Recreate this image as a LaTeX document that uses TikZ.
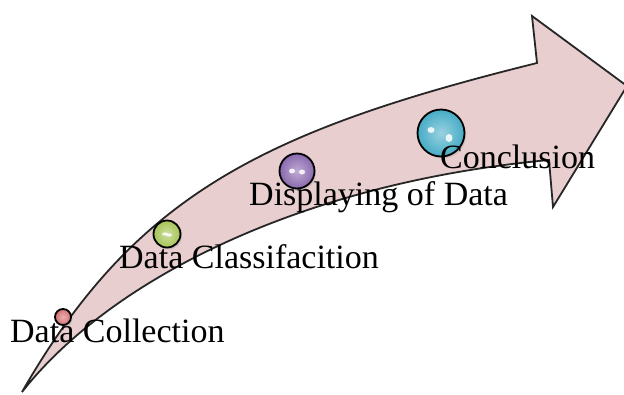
\documentclass[tikz,border=0pt]{standalone}
\usepackage{fontspec}
\setmainfont{Liberation Serif}
\usetikzlibrary{shadows}
\definecolor{arrowpink}{RGB}{232,206,206}
\definecolor{ballred}{RGB}{214,112,116}
\definecolor{ballgreen}{RGB}{165,196,85}
\definecolor{ballpurple}{RGB}{138,104,174}
\definecolor{ballcyan}{RGB}{70,172,198}
\begin{document}
\begin{tikzpicture}[x=1pt,y=-1pt,
  arrowshape/.style={draw=black!85, line width=1.8pt, fill=arrowpink, line join=miter},
  ballnode/.style={circle, draw=black, line width=1.8pt, inner sep=0pt, minimum size=#1,
    drop shadow={opacity=0.25, shadow xshift=1.5pt, shadow yshift=-2pt}},
  gloss/.style={fill=white, opacity=0.85},
  lbl/.style={anchor=base west, inner sep=0pt, font=\fontsize{34}{38}\selectfont, text=black}]
\useasboundingbox (0,0) rectangle (624,394);
% arrow
\draw[arrowshape] (22,392) .. controls (135,195) and (263,131) .. (537,63)
  -- (532,16) -- (627,86) -- (553,207) -- (549,160)
  .. controls (300,183) and (110,280) .. (22,392) -- cycle;
% balls
\node[ballnode=16pt, inner color=ballred!55!white, outer color=ballred] (b1) at (63,317) {};
\node[ballnode=27pt, inner color=ballgreen!55!white, outer color=ballgreen] (b2) at (167,234) {};
\node[ballnode=35pt, inner color=ballpurple!55!white, outer color=ballpurple] (b3) at (297,171) {};
\node[ballnode=47pt, inner color=ballcyan!55!white, outer color=ballcyan] (b4) at (441,133) {};
\fill[gloss] ([shift={(-2,0)}]b2.center) ellipse (3 and 1.6);
\fill[gloss] ([shift={(2,1)}]b2.center) ellipse (3 and 1.6);
\fill[gloss] ([shift={(-5,0)}]b3.center) ellipse (3 and 2.5);
\fill[gloss] ([shift={(5,1)}]b3.center) ellipse (3 and 2.5);
\fill[gloss] ([shift={(-10,-3)}]b4.center) ellipse (3.5 and 3);
\fill[gloss] ([shift={(8,5)}]b4.center) ellipse (3.5 and 4);
% labels
\node[lbl] (t1) at (10,342) {Data Collection};
\node[lbl] (t2) at (119,268) {Data Classifacition};
\node[lbl] (t3) at (249,205) {Displaying of Data};
\node[lbl] (t4) at (440,168) {Conclusion};
\end{tikzpicture}
\end{document}
